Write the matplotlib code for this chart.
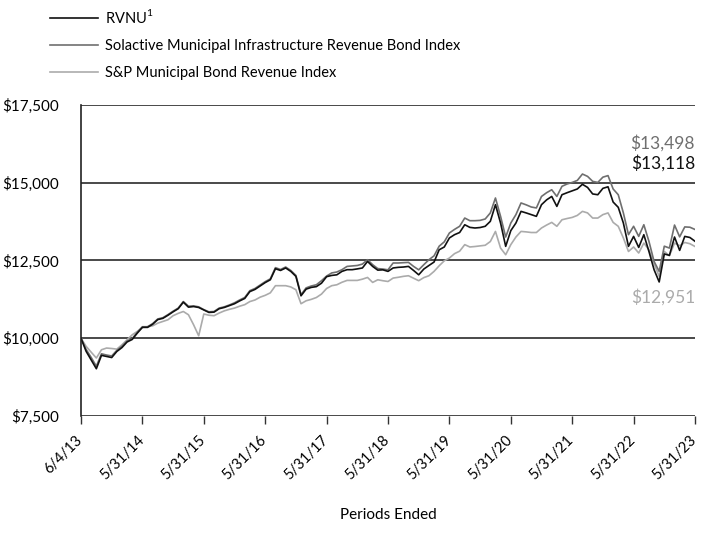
import numpy as np
import matplotlib.pyplot as plt
import matplotlib.transforms as mtrans

plt.rcParams['font.family'] = ['Lato', 'DejaVu Sans']

# monthly values, growth of $10,000 (6/4/13 .. 5/31/23)
rvnu = [10000, 9580, 9300, 9020, 9450, 9415, 9380, 9575, 9700, 9880,
        9960, 10165, 10350, 10350, 10450, 10600, 10640, 10740, 10850, 10950,
        11160, 11000, 11020, 10990, 10910, 10830, 10840, 10950, 10990, 11050,
        11110, 11200, 11280, 11500, 11570, 11680, 11790, 11880, 12235, 12180,
        12260, 12150, 11990, 11365, 11580, 11635, 11660, 11770, 11980, 12020,
        12040, 12150, 12205, 12205, 12230, 12260, 12470, 12310, 12190, 12200,
        12150, 12260, 12280, 12290, 12310, 12180, 12040, 12225, 12340, 12450,
        12845, 12935, 13225, 13330, 13400, 13650, 13565, 13545, 13560, 13600,
        13760, 14295, 13705, 12955, 13460, 13705, 14080, 14030, 13975, 13920,
        14295, 14450, 14560, 14240, 14615, 14680, 14740, 14800, 14950, 14850,
        14640, 14615, 14820, 14870, 14380, 14210, 13705, 12955, 13275, 12920,
        13330, 12790, 12205, 11810, 12710, 12665, 13255, 12825, 13275, 13240,
        13118]

solactive = [10000, 9640, 9380, 9100, 9500, 9460, 9430, 9610, 9740, 9910,
             9990, 10190, 10370, 10370, 10470, 10620, 10660, 10760, 10870, 10970,
             11180, 11030, 11040, 11010, 10920, 10850, 10860, 10970, 11010, 11070,
             11140, 11230, 11310, 11530, 11600, 11710, 11820, 11910, 12270, 12210,
             12290, 12180, 12020, 11400, 11620, 11680, 11720, 11850, 12000, 12100,
             12130, 12205, 12310, 12325, 12340, 12385, 12525, 12365, 12240, 12225,
             12200, 12420, 12420, 12430, 12440, 12310, 12200, 12365, 12525, 12650,
             12960, 13100, 13385, 13500, 13600, 13865, 13780, 13780, 13790, 13835,
             14030, 14510, 13920, 13255, 13705, 13975, 14350, 14290, 14220, 14190,
             14560, 14680, 14775, 14560, 14885, 14960, 15010, 15075, 15280, 15205,
             15045, 15010, 15180, 15230, 14800, 14615, 14030, 13330, 13600, 13275,
             13650, 13115, 12470, 12150, 12960, 12900, 13640, 13260, 13580, 13570,
             13498]

sp_muni = [10000, 9740, 9550, 9365, 9630, 9685, 9670, 9650, 9790, 9950,
           10110, 10220, 10350, 10370, 10400, 10485, 10540, 10595, 10725, 10800,
           10860, 10755, 10435, 10080, 10780, 10740, 10725, 10810, 10880, 10930,
           10970, 11030, 11080, 11180, 11230, 11320, 11380, 11460, 11690, 11690,
           11690, 11650, 11560, 11110, 11205, 11250, 11310, 11420, 11600, 11690,
           11720, 11800, 11860, 11860, 11860, 11900, 11955, 11795, 11880, 11850,
           11825, 11935, 11960, 11990, 12010, 11930, 11850, 11950, 12010, 12150,
           12330, 12490, 12580, 12720, 12800, 13010, 12935, 12950, 12970, 12990,
           13110, 13435, 12900, 12685, 13010, 13255, 13435, 13420, 13400, 13400,
           13545, 13640, 13725, 13600, 13810, 13850, 13885, 13950, 14080, 14030,
           13865, 13865, 13975, 14030, 13725, 13600, 13225, 12790, 12935, 12740,
           13060, 12845, 12400, 11990, 12790, 12655, 13060, 12975, 13080, 13040,
           12951]

tick_labels = ['6/4/13', '5/31/14', '5/31/15', '5/31/16', '5/31/17', '5/31/18',
               '5/31/19', '5/31/20', '5/31/21', '5/31/22', '5/31/23']
y_ticks = [7500, 10000, 12500, 15000, 17500]

c_rvnu = '#111111'
c_sol = '#6f6f6f'
c_sp = '#ababab'

fig = plt.figure(figsize=(7.02, 5.38), dpi=100)
ax = fig.add_axes([81/702, 1 - 416/538, (695 - 81)/702, (416 - 105)/538])

x = np.arange(len(rvnu))
l3, = ax.plot(x, sp_muni, color=c_sp, lw=1.2, label='S&P Municipal Bond Revenue Index')
l2, = ax.plot(x, solactive, color=c_sol, lw=1.2,
              label='Solactive Municipal Infrastructure Revenue Bond Index')
l1, = ax.plot(x, rvnu, color=c_rvnu, lw=1.2, label='RVNU$^{\\mathregular{1}}$')

ax.set_xlim(0, 120)
ax.set_ylim(7500, 17500)
ax.set_yticks(y_ticks)
ax.set_yticklabels(['${:,}'.format(v) for v in y_ticks], fontsize=11)
ax.set_xticks(np.arange(0, 121, 12))
ax.set_xticklabels(tick_labels, rotation=45, ha='right', rotation_mode='anchor',
                   fontsize=10.5)
ax.tick_params(axis='y', length=0, pad=16)
ax.tick_params(axis='x', length=6, width=1, color='#333333', pad=6)
# nudge the rotated date labels a little to the left so the last one fits
shift = mtrans.ScaledTranslation(-4/72, 0, fig.dpi_scale_trans)
for lab in ax.get_xticklabels():
    lab.set_transform(lab.get_transform() + shift)
for v in y_ticks:
    ax.axhline(v, color='#3a3a3a', lw=1.3, zorder=0)
for s in ['top', 'right', 'bottom']:
    ax.spines[s].set_visible(False)
ax.spines['left'].set_color('#222222')
ax.spines['left'].set_linewidth(1.2)

# end-value labels
ax.text(1.0, 0.878, '${:,}'.format(solactive[-1]), color=c_sol, transform=ax.transAxes,
        ha='right', va='center', fontsize=12.5)
ax.text(1.0, 0.813, '${:,}'.format(rvnu[-1]), color=c_rvnu, transform=ax.transAxes,
        ha='right', va='center', fontsize=12.5)
ax.text(1.0, 0.383, '${:,}'.format(sp_muni[-1]), color=c_sp, transform=ax.transAxes,
        ha='right', va='center', fontsize=12.5)

fig.text(388/702, 1 - 515/538, 'Periods Ended', ha='center', va='center', fontsize=11)

fig.legend(handles=[l1, l2, l3], loc='upper left', bbox_to_anchor=(50/702, 1 - 8/538),
           frameon=False, fontsize=10.5, handlelength=3.3, handletextpad=0.5,
           labelspacing=0.9, borderaxespad=0, borderpad=0)

fig.savefig('out.png', dpi=100)
